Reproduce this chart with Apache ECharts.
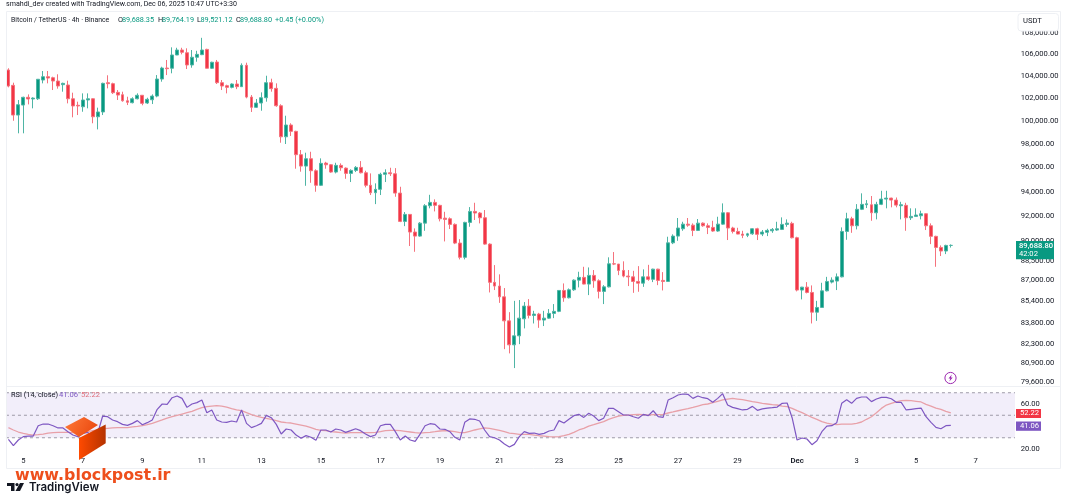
<!DOCTYPE html>
<html>
<head>
<meta charset="utf-8">
<style>html,body{margin:0;padding:0;background:#fff}#chart{width:1066px;height:500px}</style>
<script src="https://cdn.jsdelivr.net/npm/echarts@6/dist/echarts.min.js"></script>
</head>
<body>
<div id="chart"></div>
<script>
// BTC/USDT 4h candles, Nov 4 - Dec 6 2025
const opens = [104530,103140,100500,101380,102070,101920,101940,103620,103920,103830,103530,103200,103170,101940,101360,101230,101830,101940,100350,100770,103380,103290,102510,102300,101760,101590,101940,102250,101560,101850,102180,103710,104710,104690,105910,106370,106120,104990,105700,105940,106430,104690,105260,103380,103110,102960,103260,103020,104960,102090,101180,101560,102030,103380,102870,101320,98610,99630,99080,97080,96120,96740,95730,94520,96370,96230,95620,96180,95950,95510,95760,96010,95560,94520,93910,94190,95430,95560,95480,93880,91590,92150,90740,90420,91450,92850,93120,92880,91850,91800,91350,89870,88760,91510,92390,92260,91880,89790,86840,86560,85750,83970,82230,82880,84120,85060,84370,84470,84030,84170,84520,84670,86230,85680,86280,87010,87220,86710,87370,86960,86160,86500,88260,88240,87750,87320,87260,86910,86780,87260,87070,87850,86990,86910,89890,90420,91000,91370,91290,90870,91450,91240,91110,90820,91370,92280,91060,90790,90580,90480,90600,91000,90580,90720,90840,90900,90950,91350,91430,90290,86260,86480,86080,84610,84960,86200,86860,86940,87260,90790,91800,91240,92560,92930,92930,92280,92960,93390,93470,93310,92850,92880,91880,91990,92040,92200,91240,90400,89530,89250,89688.35];
const highs = [104690,103380,101830,102120,102330,102070,103700,104440,104440,103920,104140,103380,103560,102480,101680,102420,102420,101980,101150,103380,104050,103380,102720,102570,102120,102070,102420,102270,102030,102330,104070,104830,105450,106620,106580,106580,106530,106370,106300,107510,106490,105290,105450,103620,103200,103320,103620,105140,105200,102270,101920,102510,104010,103740,103320,101450,100440,99780,99130,97480,97250,97330,95850,96770,96480,96290,96400,96350,96010,95850,96120,96540,95730,95510,94680,95560,95850,95980,95950,94400,92340,92180,91030,91530,92980,93740,93370,92930,92360,91910,91430,90180,91560,92740,93090,92340,92500,89850,88160,87450,86410,84610,85450,85510,85360,85580,84710,84560,84710,84840,85210,86260,86760,86380,87070,87650,88030,87980,87780,87070,86630,88760,89170,88240,88450,87780,87720,88080,87830,88180,87880,87880,87620,90370,90560,91860,91560,91860,91430,91780,91510,91430,91640,91960,93040,92340,91160,91080,90840,90680,91030,91080,90900,91000,91060,91560,91910,91750,91560,90370,86500,86860,86610,85450,86810,87260,87220,87520,91110,92280,91960,92980,93860,93310,93640,93170,94070,94070,93500,93520,93170,93090,92640,92640,92450,92230,91430,90450,89690,89740,89764.19];
const lows = [102960,100000,98910,98910,101440,101090,101830,103320,103320,102720,102840,102570,101530,100300,100500,100790,101090,99780,99250,100500,102870,102360,101830,101680,101380,101530,101890,101360,101470,101470,102070,103470,104070,104230,105900,105970,104620,104740,105290,105900,104680,104620,103260,102720,102420,102870,102800,103000,101980,100770,101120,100880,101680,102570,101230,98100,97990,98680,95900,95650,94480,94730,93990,94460,95900,95560,95510,95730,95060,94790,95620,95510,94350,93720,92980,93720,94790,95290,93580,91530,91210,89640,89190,90370,90840,92640,92390,91590,90000,90980,89790,88600,88600,91160,91700,91430,89740,86080,86260,85300,81920,81620,80580,82280,83420,84150,83780,83460,83590,84120,84170,84610,85380,85630,86200,86460,86690,85880,86430,85630,85210,86460,88160,87390,87220,86560,86050,86130,86500,86960,86860,86630,86230,86880,89790,90050,90840,91160,90420,90820,91160,90580,90760,90760,91320,90110,90630,90570,90260,90340,90520,90110,90420,90420,90680,90840,90900,91160,90240,86160,85560,86010,83780,83970,84930,86160,86760,86260,87220,90130,90680,90950,92500,92660,91640,91750,92900,92640,92720,92720,91750,90840,91700,91960,91750,90900,89790,88030,88860,89010,89521.12];
const closes = [103080,100500,101410,102070,101920,102000,103690,103920,103800,103530,103080,103320,101940,101300,101300,101830,101940,100350,100770,103320,103290,102480,102270,101760,101620,101940,102250,101530,101890,102180,103710,104710,104650,105910,106370,106160,104990,105700,105970,106370,104690,105240,103380,103080,102960,103260,103020,104960,102090,101180,101560,102030,103380,102840,101320,98610,99630,99080,97080,96120,96740,95730,94520,96350,96230,95620,96180,95980,95510,95760,96010,95560,94520,93910,94190,95430,95560,95480,93880,91590,92150,90740,90420,91450,92850,93120,92880,91800,91750,91350,89870,88760,91510,92390,92260,91880,89790,86840,86560,85750,83970,82230,82880,84170,85060,84370,84470,84030,84170,84520,84670,86230,85680,86280,87010,87220,86710,87370,86960,86160,86500,88260,88240,87750,87320,87260,86910,86780,87260,87070,87850,86990,86910,89890,90420,91060,91370,91290,90870,91450,91240,91110,90820,91370,92280,91060,90790,90580,90480,90600,91000,90560,90740,90870,90950,91000,91350,91450,90290,86260,86480,86080,84610,84960,86200,86910,87010,87260,90790,91800,91240,92560,92960,93010,92280,92960,93390,93470,93310,92900,92930,91880,91990,92100,92200,91240,90400,89530,89250,89688.35,89688.80];

// RSI(14) and its moving average, one reading per candle
const rsi = [28.6,23,28,31,31.5,31.5,40.7,42.2,42.2,40.7,38.7,38.7,35.4,32.4,31,33.9,34.8,31,34,49.3,48.7,45.8,44.3,41.9,41,42.8,45.2,41.6,43.4,45.8,55.3,60,59.7,65.6,67.1,65,57,60,61.2,63.5,52.3,54.7,45.8,44,43.7,44.9,44,54.7,42.8,39,40.7,42.8,49.9,47.8,41.9,33.3,37.8,36.9,32.4,29.5,31.9,30.4,27.7,36.9,36.9,35.1,37.8,36.9,34.8,36.3,38,36.3,33.3,31,32.4,40.7,41.9,41.9,35.4,28,31.5,28,26.8,33.3,40.7,42.5,41.9,37.8,37.5,35.4,30.4,28,43.7,46.7,46.4,44.9,36.9,31,30,28,24.4,21.8,24.1,31,35.4,33.9,34.2,33,33.9,36,36.9,45.2,43.1,46.4,49.6,50.8,48.1,51.7,49.3,45.2,47.3,56.1,56.1,53.2,50.2,50.2,48.7,47.3,50.8,49.6,54,48.7,48.1,63.5,65.6,68,68.9,68.6,65,67.1,65.6,64.7,61.5,65,69.2,59.1,57,55.9,54.7,55.3,57.9,54.4,55.6,56.4,56.7,57.3,60.6,60.9,47.8,28,29.8,28.9,23.8,27.4,35.4,40.4,40.7,43.4,60.6,63.8,60.6,65,66.2,66.2,62.1,64.4,65.9,65.9,64.7,61.5,61.5,54.7,55.3,55.9,56.4,48.7,43.7,39.2,38,40.7,41.06];
const rsiMa = [39,36.9,35.1,33.9,33,32.4,32.7,33.3,34.2,34.5,34.8,34.8,34.8,34.5,34.5,34.5,35.4,36.3,36.9,38,38.4,38.7,39,39,39,39.6,40.1,40.7,41.6,42.8,44.3,45.8,47.5,48.7,49.9,51.1,52.3,53.5,55.2,56.7,57.6,58.2,58.5,58.2,57.3,55.9,54.7,54.1,52.3,50.5,49.3,48.1,47.3,46.4,45.2,44,43.4,43.1,42.2,41.3,40.4,39,37.5,36.6,36.3,35.4,35.1,34.5,34.2,34.5,34.5,34.5,34.5,34.5,34.8,35.4,36.3,36.6,36.6,36.3,35.7,35.1,34.5,34.2,34.5,34.8,35.4,36,36.3,36,35.4,34.5,34.5,35.7,36.9,37.8,38.7,38.4,37.5,36.6,35.4,34.2,33.6,33,33,33,32.4,31.8,31.5,31,30.7,31,31.8,33,34.8,36.9,38.4,40.4,41.6,43.1,44.3,46.4,47.8,49.3,49.9,50.2,50.5,50.8,50.5,50.2,50.5,50.5,50.8,52,52.9,54,55,55.9,57,58.2,59.4,60,61.2,62.4,63.6,64.4,65,64.4,63.8,63,62.1,61.5,60.6,60,59.4,59.1,58.2,57.6,56.1,54.1,52.3,50.2,48.1,46.4,44.3,43.1,42.2,41.6,42.2,42.2,42.2,42.8,44,46.4,48.7,52.3,56.1,59.1,60.6,61.8,63,63.2,63,62.4,61.8,59.7,58.2,56.4,55.3,53.5,52.22];

const priceTicks = [108000,106000,104000,102000,100000,98000,96000,94000,92000,90000,88500,87000,85400,83800,82300,80900,79600];
const rsiTicks = [60,20];
const rsiLevels = [70,50,30];
const dateLabels = {5:'5',7:'7',9:'9',11:'11',13:'13',15:'15',17:'17',19:'19',21:'21',23:'23',25:'25',27:'27',29:'29'};

const UP = '#089981', DOWN = '#F23645', RSI_LINE = '#7E57C2', RSI_AVG = '#E8A0A8';
const FONT = 'Roboto, sans-serif', INK = '#131722';
const money = v => v.toLocaleString('en-US', {minimumFractionDigits: 2, maximumFractionDigits: 2});

// One category per 4h bar, including the empty bars to the right of the last candle
const H4 = 4 * 3600 * 1000, NOV5 = Date.UTC(2025, 10, 5);
const slots = Array.from({length: 204}, (_, i) => NOV5 + (i - 3) * H4);

function dayLabel(ms) {
  const d = new Date(ms);
  if (d.getUTCHours() !== 0) return '';
  if (d.getUTCMonth() === 11) {
    const day = d.getUTCDate();
    if (day === 1) return '{b|Dec}';
    return day % 2 ? String(day) : '';
  }
  return dateLabels[d.getUTCDate()] || '';
}

const candles = opens.map((o, i) => [o, closes[i], lows[i], highs[i]]);
const PLOT_LEFT = 5.95, SLOT = 4.96, PLOT_END = 1015;

const chart = echarts.init(document.getElementById('chart'), null, {renderer: 'canvas'});

// Overlay helpers: text, tag box, last value of a series
const t = (x, y, text, fill, size, weight, family) => ({
  type: 'text', x, y,
  style: {text, fill, font: `${weight || 400} ${size || 7.6}px ${family || FONT}`, verticalAlign: 'middle', align: 'left'}
});
const box = (x, y, w, h, fill) => ({type: 'rect', shape: {x, y, width: w, height: h}, style: {fill}});
const last = a => a[a.length - 1];

const overlay = [
  // Pane frame
  {type: 'rect', shape: {x: 6.5, y: 11.5, width: 1054, height: 457}, style: {fill: 'none', stroke: '#EEF0F4', lineWidth: 1}},
  {type: 'line', shape: {x1: 6, y1: 386.5, x2: 1060, y2: 386.5}, style: {stroke: '#EEF0F4', lineWidth: 1}},
  // Header
  t(6, 4.7, 'smahdi_dev created with TradingView.com, Dec 06, 2025 10:47 UTC+3:30', INK, 7.1),
  t(11, 20, 'Bitcoin / TetherUS · 4h · Binance', INK, 6.9),
  t(118, 20, 'O', INK, 7.3), t(122, 20, money(opens[190]), UP, 7.3),
  t(158, 20, 'H', INK, 7.3), t(162, 20, money(highs[190]), UP, 7.3),
  t(197, 20, 'L', INK, 7.3), t(200.5, 20, money(lows[190]), UP, 7.3),
  t(236, 20, 'C', INK, 7.3), t(240, 20, money(closes[190]), UP, 7.3),
  t(275, 20, '+0.45 (+0.00%)', UP, 7.3),
  // Quote currency selector
  {type: 'rect', shape: {x: 1018, y: 13.5, width: 40.5, height: 17.5, r: 3}, style: {fill: '#fff', stroke: '#EEF0F4', lineWidth: 1}},
  t(1023, 21, 'USDT', INK),
  // RSI legend
  t(11, 395, 'RSI (14, close)', INK, 7.4),
  t(59, 395, money(last(rsi)), RSI_LINE),
  t(81, 395, money(last(rsiMa)), '#E0707C'),
  // Last-price and RSI tags
  box(1016, 241, 38, 18.3, UP),
  t(1019, 246.2, money(last(closes)), '#fff', 7.6, 500),
  t(1019, 254, '42:02', '#fff'),
  box(1016, 409, 25, 9, DOWN),
  t(1020, 413.5, money(last(rsiMa)), '#fff'),
  box(1016, 421.5, 25, 9.3, RSI_LINE),
  t(1020, 426, money(last(rsi)), '#fff'),
  // Alert bolt
  {type: 'circle', shape: {cx: 950.5, cy: 378, r: 5.6}, style: {fill: '#fff', stroke: '#9C27B0', lineWidth: 1}},
  {type: 'polygon', shape: {points: [[951.8, 374.5], [948.5, 378.6], [950.3, 378.6], [949.4, 381.5], [952.7, 377.4], [950.9, 377.4]]}, style: {fill: '#9C27B0'}},
  // Site mark: orange cube and address
  {type: 'polygon', shape: {points: [[65, 427], [84, 417], [98, 425], [79, 437]]},
   style: {fill: {type: 'linear', x: 0, y: 0, x2: 1, y2: 1, colorStops: [{offset: 0, color: '#FF7A3A'}, {offset: 1, color: '#E8430A'}]}}},
  {type: 'polygon', shape: {points: [[79, 438], [105.7, 424.5], [105.7, 443.3], [79, 460]]},
   style: {fill: {type: 'linear', x: 0, y: 0, x2: 1, y2: 0, colorStops: [{offset: 0, color: '#FF4A00'}, {offset: 1, color: '#B53200'}]}}},
  t(15, 476, 'www.blockpost.ir', '#EE4F1C', 15.9, 700, '"DejaVu Sans", sans-serif'),
  // TradingView mark
  {type: 'polygon', shape: {points: [[7, 483], [14.5, 483], [14.5, 491], [11, 491], [11, 486], [7, 486]]}, style: {fill: '#131722'}},
  {type: 'circle', shape: {cx: 17, cy: 484.6, r: 1.6}, style: {fill: '#131722'}},
  {type: 'polygon', shape: {points: [[20, 483], [24, 483], [20, 491], [15.5, 491]]}, style: {fill: '#131722'}},
  t(29, 487.5, 'TradingView', '#131722', 11.5, 600, 'Inter, sans-serif')
].map(el => Object.assign(el, {z: 100, silent: true}));

chart.setOption({
  animation: false,
  backgroundColor: '#fff',
  grid: [
    {left: PLOT_LEFT, top: 11, width: SLOT * slots.length, height: 375},
    {left: PLOT_LEFT, top: 389, width: SLOT * slots.length, height: 65}
  ],
  xAxis: [
    {type: 'category', gridIndex: 0, data: slots, boundaryGap: true,
     axisLine: {show: false}, axisTick: {show: false}, axisLabel: {show: false}, splitLine: {show: false}},
    {type: 'category', gridIndex: 1, data: slots, boundaryGap: true,
     axisLine: {show: false}, axisTick: {show: false}, splitLine: {show: false},
     axisLabel: {
       interval: (i, v) => dayLabel(+v) !== '',
       formatter: v => dayLabel(+v),
       margin: 3, fontFamily: FONT, fontSize: 7.6, color: INK,
       hideOverlap: false,
       rich: {b: {fontFamily: FONT, fontSize: 7.8, fontWeight: 600, color: INK}}
     }}
  ],
  yAxis: [
    {type: 'log', logBase: 10, gridIndex: 0, position: 'right', min: 79328, max: 110057,
     axisLine: {show: false}, axisTick: {show: false}, splitLine: {show: false},
     axisLabel: {customValues: priceTicks, formatter: v => money(Math.round(v)), margin: 3, align: 'left',
       fontFamily: FONT, fontSize: 7.6, color: INK}},
    {type: 'value', gridIndex: 1, position: 'right', min: 15.56, max: 73.33,
     axisLine: {show: false}, axisTick: {show: false}, splitLine: {show: false},
     axisLabel: {customValues: rsiTicks, formatter: v => money(v), margin: 3, align: 'left',
       fontFamily: FONT, fontSize: 7.6, color: INK}}
  ],
  series: [
    {type: 'candlestick', xAxisIndex: 0, yAxisIndex: 0, data: candles, barWidth: 3.4,
     itemStyle: {color: UP, color0: DOWN, borderColor: '#4FB5A5', borderColor0: '#F5727D', borderWidth: 1}},
    // Overbought / oversold band with its dashed guides
    {type: 'custom', xAxisIndex: 1, yAxisIndex: 1, data: [0], clip: false, silent: true, z: 1,
     renderItem: (p, api) => {
       const ys = rsiLevels.map(l => api.coord([0, l])[1]);
       const children = [{type: 'rect', shape: {x: PLOT_LEFT, y: ys[0], width: PLOT_END - PLOT_LEFT, height: ys[2] - ys[0]},
         style: {fill: '#F2EEFA'}}];
       ys.forEach(y => children.push({type: 'line', shape: {x1: PLOT_LEFT, y1: y, x2: PLOT_END, y2: y},
         style: {stroke: '#9E9BA8', lineWidth: 1, lineDash: [3, 3]}}));
       return {type: 'group', children};
     }},
    {type: 'line', xAxisIndex: 1, yAxisIndex: 1, data: rsiMa, showSymbol: false, z: 3,
     lineStyle: {color: RSI_AVG, width: 1.3}},
    {type: 'line', xAxisIndex: 1, yAxisIndex: 1, data: rsi, showSymbol: false, z: 4,
     lineStyle: {color: RSI_LINE, width: 1.2}}
  ],
  graphic: {elements: overlay}
});
</script>
</body>
</html>
